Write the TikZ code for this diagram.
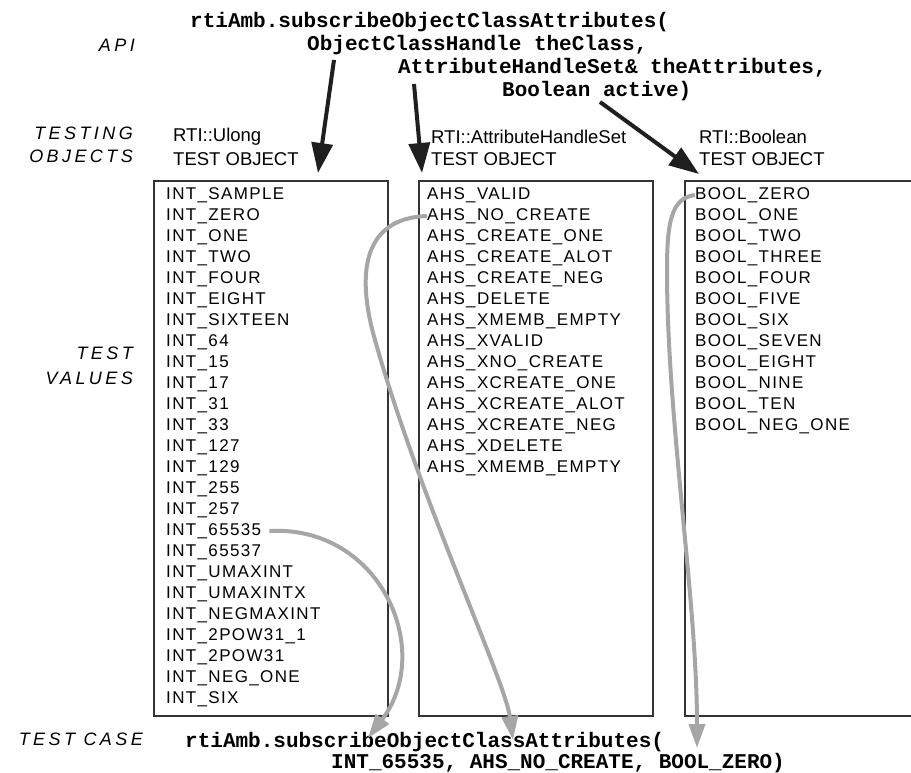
\documentclass[tikz,border=0pt]{standalone}
\usepackage{fontspec}
\setmainfont{Liberation Sans}
\newfontfamily\codefont{Liberation Mono}
\newfontfamily\tagfont[LetterSpace=19]{Liberation Sans}
\newfontfamily\valfont[LetterSpace=8]{Liberation Sans}
\usetikzlibrary{arrows.meta}

\begin{document}
\begin{tikzpicture}[x=1pt, y=-1pt,
	code/.style={anchor=west, inner sep=0pt, font=\codefont\bfseries\fontsize{21}{23}\selectfont},
	tag/.style={anchor=east, inner sep=0pt, font=\tagfont\itshape\fontsize{18}{22}\selectfont},
	head/.style={anchor=west, inner sep=0pt, font=\fontsize{18.5}{22}\selectfont},
	val/.style={anchor=west, inner sep=0pt, font=\valfont\fontsize{17}{21}\selectfont},
	box/.style={draw=black!80, line width=2pt},
	api/.style={-{Triangle[length=30pt,width=21pt]}, line width=4pt, black!88},
	pick/.style={-{Triangle[length=24pt,width=16pt]}, line width=4pt, black!35}]
	\useasboundingbox (0,0) rectangle (911,773);
	% left hand tags
	\node[tag] (tagApi) at (135,45) {API};
	\node[tag] (tagTesting) at (133,133) {TESTING};
	\node[tag] (tagObjects) at (133,156) {OBJECTS};
	\node[tag] (tagTest) at (133,353) {TEST};
	\node[tag] (tagValues) at (133,378) {VALUES};
	\node[tag] (tagCase) at (143,739) {TEST CASE};
	% the call under test
	\node[code] (sigHead) at (190,22) {rtiAmb.subscribeObjectClassAttributes(};
	\node[code] (sigCls) at (307,45) {ObjectClassHandle theClass,};
	\node[code] (sigAttr) at (398,68) {AttributeHandleSet\& theAttributes,};
	\node[code] (sigBool) at (502,91) {Boolean active)};
	% testing objects
	\node[head] (hdUlong) at (173,137) {RTI::Ulong};
	\node[head] (objUlong) at (173,159) {TEST OBJECT};
	\node[head] (hdAhs) at (431,137) {RTI::AttributeHandleSet};
	\node[head] (objAhs) at (431,159) {TEST OBJECT};
	\node[head] (hdBool) at (699,137) {RTI::Boolean};
	\node[head] (objBool) at (699,159) {TEST OBJECT};
	\draw[box] (154,181) rectangle (388,716);
	\draw[box] (419,181) rectangle (653,716);
	\draw[box] (911,181) -| (685,716) -- (911,716);
	% test values
	\foreach \t [count=\i] in {INT\_SAMPLE, INT\_ZERO, INT\_ONE, INT\_TWO, INT\_FOUR,
		INT\_EIGHT, INT\_SIXTEEN, INT\_64, INT\_15, INT\_17, INT\_31, INT\_33, INT\_127,
		INT\_129, INT\_255, INT\_257, INT\_65535, INT\_65537, INT\_UMAXINT, INT\_UMAXINTX,
		INT\_NEGMAXINT, INT\_2POW31\_1, INT\_2POW31, INT\_NEG\_ONE, INT\_SIX}
		\node[val] (ulong-\i) at (166,{195+21*(\i-1)}) {\t};
	\foreach \t [count=\i] in {AHS\_VALID, AHS\_NO\_CREATE, AHS\_CREATE\_ONE,
		AHS\_CREATE\_ALOT, AHS\_CREATE\_NEG, AHS\_DELETE, AHS\_XMEMB\_EMPTY, AHS\_XVALID,
		AHS\_XNO\_CREATE, AHS\_XCREATE\_ONE, AHS\_XCREATE\_ALOT, AHS\_XCREATE\_NEG,
		AHS\_XDELETE, AHS\_XMEMB\_EMPTY}
		\node[val] (ahs-\i) at (427,{195+21*(\i-1)}) {\t};
	\foreach \t [count=\i] in {BOOL\_ZERO, BOOL\_ONE, BOOL\_TWO, BOOL\_THREE, BOOL\_FOUR,
		BOOL\_FIVE, BOOL\_SIX, BOOL\_SEVEN, BOOL\_EIGHT, BOOL\_NINE, BOOL\_TEN, BOOL\_NEG\_ONE}
		\node[val] (bool-\i) at (695,{195+21*(\i-1)}) {\t};
	% the generated test case
	\node[code] (tcHead) at (185,742) {rtiAmb.subscribeObjectClassAttributes(};
	\node[code] (tcArgs) at (331,763) {INT\_65535, AHS\_NO\_CREATE, BOOL\_ZERO)};
	% parameter -> testing object
	\coordinate (clsFrom) at (334,60);
	\coordinate (clsTo) at (318,173);
	\coordinate (attrFrom) at (414,84);
	\coordinate (attrTo) at (422,173);
	\coordinate (boolFrom) at (600,102);
	\coordinate (boolTo) at (699,174);
	\draw[api] (clsFrom) -- (clsTo);
	\draw[api] (attrFrom) -- (attrTo);
	\draw[api] (boolFrom) -- (boolTo);
	% picked values -> test case
	\coordinate (tcInt) at (368,738);
	\coordinate (tcAhs) at (513,740);
	\coordinate (tcBool) at (697,748);
	\draw[pick] ([xshift=8pt]ulong-17.east) .. controls (380,525) and (435,650) .. (tcInt);
	\draw[pick] (ahs-2.west) .. controls (365,218) and (355,270) .. (375,340)
		.. controls (420,500) and (505,680) .. (tcAhs);
	\draw[pick] (bool-1.west) .. controls (672,198) and (667,220) .. (667,270)
		.. controls (667,420) and (697,600) .. (tcBool);
\end{tikzpicture}
\end{document}
